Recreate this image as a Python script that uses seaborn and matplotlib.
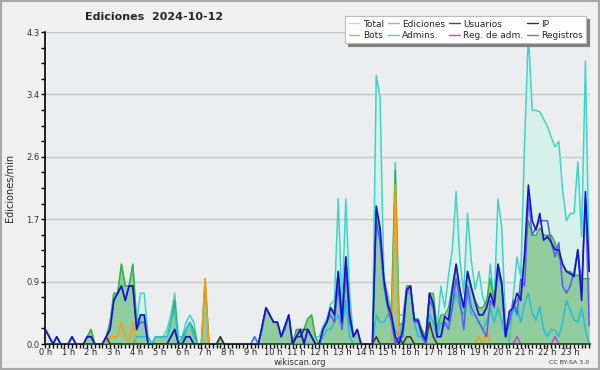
import numpy as np
import seaborn as sns
import matplotlib.pyplot as plt
from matplotlib.lines import Line2D
from matplotlib.ticker import FixedLocator, MultipleLocator

# 10-minute steps, 6 values per hour
total = [
    0.2, 0.1, 0, 0.1, 0, 0,
    0, 0.1, 0, 0, 0, 0.1,
    0.2, 0, 0, 0, 0.1, 0.3,
    0.7, 0.7, 1.1, 0.8, 0.8, 1.1,
    0.3, 0.7, 0.7, 0.1, 0, 0.1,
    0.1, 0.1, 0.2, 0.4, 0.7, 0.1,
    0.1, 0.3, 0.4, 0.3, 0, 0,
    0.9, 0, 0, 0, 0.1, 0,
    0, 0, 0, 0, 0, 0,
    0, 0.1, 0, 0.25, 0.5, 0.4,
    0.3, 0.3, 0.1, 0.25, 0.4, 0,
    0.2, 0.2, 0.2, 0.35, 0.4, 0.1,
    0.1, 0.25, 0.35, 0.55, 0.6, 2.0,
    0.5, 2.0, 0.7, 0.1, 0.2, 0,
    0, 0, 0, 3.7, 3.4, 0.9,
    0.7, 0.45, 2.5, 0.4, 0.4, 0.8,
    0.8, 0.35, 0.35, 0.2, 0.1, 0.7,
    0.6, 0.2, 0.8, 0.5, 0.95, 1.3,
    2.1, 1.15, 0.7, 1.8, 1.15, 0.75,
    1.0, 0.65, 0.5, 1.1, 0.55, 2.0,
    1.6, 0.3, 0, 0.65, 1.2, 0.93,
    2.76, 4.28, 3.22, 3.22, 3.2, 3.1,
    3.0, 2.85, 2.72, 2.79, 2.12, 1.7,
    1.8, 1.8, 2.51, 1.48, 3.9, 1.0,
]
ediciones = [
    0, 0, 0, 0, 0, 0,
    0, 0, 0, 0, 0, 0.1,
    0.2, 0, 0, 0, 0.1, 0.3,
    0.7, 0.7, 1.1, 0.8, 0.8, 1.1,
    0.3, 0.4, 0.4, 0, 0, 0.1,
    0.1, 0.1, 0.1, 0.3, 0.6, 0,
    0.1, 0.2, 0.3, 0.2, 0, 0,
    0.9, 0, 0, 0, 0.1, 0,
    0, 0, 0, 0, 0, 0,
    0, 0, 0, 0.25, 0.5, 0.4,
    0.3, 0.3, 0.1, 0.25, 0.4, 0,
    0.2, 0.2, 0.2, 0.35, 0.4, 0.1,
    0, 0.2, 0.3, 0.5, 0.45, 1.0,
    0.35, 1.2, 0.45, 0.1, 0.2, 0,
    0, 0, 0, 1.85, 1.55, 0.9,
    0.6, 0.4, 2.4, 0.25, 0.3, 0.8,
    0.8, 0.35, 0.3, 0.2, 0.1, 0.7,
    0.7, 0.2, 0.4, 0.4, 0.5, 0.8,
    1.1, 0.75, 0.5, 1.0, 0.8, 0.6,
    0.5, 0.5, 0.6, 0.9, 0.6, 1.1,
    0.85, 0.1, 0.3, 0.5, 0.6, 0.7,
    1.2, 1.7, 1.5, 1.5, 1.6, 1.5,
    1.5, 1.5, 1.4, 1.2, 1.1, 1.0,
    1.0, 0.95, 0.95, 0.9, 0.9, 0.9,
]
usuarios = [
    0.2, 0.1, 0, 0.1, 0, 0,
    0, 0.1, 0, 0, 0, 0.1,
    0.1, 0, 0, 0, 0.1, 0.2,
    0.6, 0.7, 0.8, 0.6, 0.8, 0.8,
    0.2, 0.4, 0.4, 0, 0, 0,
    0, 0, 0, 0.1, 0.2, 0,
    0, 0.1, 0.1, 0, 0, 0,
    0, 0, 0, 0, 0, 0,
    0, 0, 0, 0, 0, 0,
    0, 0, 0, 0.25, 0.5, 0.4,
    0.3, 0.3, 0.1, 0.25, 0.4, 0,
    0.1, 0.2, 0, 0.2, 0.1, 0,
    0, 0.2, 0.3, 0.5, 0.4, 1.0,
    0.3, 1.2, 0.4, 0.1, 0.2, 0,
    0, 0, 0, 1.9, 1.6, 0.9,
    0.55, 0.4, 0.1, 0, 0.2, 0.75,
    0.8, 0.33, 0.33, 0.15, 0.05, 0.7,
    0.55, 0.1, 0.1, 0.38, 0.33, 0.74,
    1.1, 0.74, 0.5, 1.0, 0.77, 0.58,
    0.4, 0.4, 0.5, 0.7, 0.54, 1.1,
    0.84, 0.1, 0.45, 0.5, 0.7, 0.6,
    1.25, 2.19, 1.7, 1.57, 1.8, 1.43,
    1.48, 1.4, 1.3, 1.3, 1.1, 1.0,
    0.97, 0.93, 1.3, 0.6, 2.1, 1.0,
]
registros = [
    0.2, 0.1, 0, 0.1, 0, 0,
    0, 0.1, 0, 0, 0, 0.1,
    0.1, 0, 0, 0, 0.1, 0.2,
    0.6, 0.7, 0.8, 0.6, 0.8, 0.8,
    0.2, 0.3, 0.3, 0, 0, 0,
    0, 0, 0, 0.1, 0.2, 0,
    0, 0.1, 0.1, 0, 0, 0,
    0, 0, 0, 0, 0, 0,
    0, 0, 0, 0, 0, 0,
    0, 0.1, 0, 0.2, 0.5, 0.4,
    0.3, 0.3, 0.1, 0.2, 0.4, 0,
    0.1, 0.2, 0, 0.2, 0.1, 0,
    0, 0.2, 0.3, 0.4, 0.3, 0.8,
    0.2, 1.0, 0.3, 0.1, 0.2, 0,
    0, 0, 0, 1.7, 1.4, 0.8,
    0.5, 0.3, 0, 0.1, 0.1, 0.7,
    0.8, 0.3, 0.3, 0.1, 0, 0.6,
    0.5, 0.1, 0.1, 0.3, 0.2, 0.5,
    0.9, 0.6, 0.2, 0.8, 0.5, 0.4,
    0.3, 0.2, 0.1, 0.6, 0.5, 1.0,
    0.8, 0.1, 0.3, 0.6, 0.4, 0.9,
    0.8, 2.0, 1.5, 1.6, 1.7, 1.7,
    1.7, 1.4, 1.2, 1.4, 0.8, 0.7,
    0.8, 1.0, 1.3, 0.8, 2.0, 0.25,
]
admins = [
    0, 0, 0, 0, 0, 0,
    0, 0, 0, 0, 0, 0,
    0, 0, 0, 0, 0, 0,
    0, 0, 0, 0, 0, 0,
    0.1, 0.1, 0.1, 0.1, 0, 0.1,
    0.1, 0.1, 0.1, 0.3, 0.5, 0,
    0, 0.2, 0.3, 0.1, 0, 0,
    0, 0, 0, 0, 0, 0,
    0, 0, 0, 0, 0, 0,
    0, 0, 0, 0, 0, 0,
    0, 0, 0, 0, 0, 0,
    0, 0, 0, 0, 0, 0,
    0, 0.1, 0.2, 0.2, 0.3, 0.4,
    0.2, 0.6, 0.1, 0, 0, 0,
    0, 0, 0, 0.4, 0.3, 0.3,
    0.4, 0.35, 0.2, 0.1, 0.3, 0.7,
    0.7, 0.3, 0.1, 0.1, 0.1, 0.4,
    0.3, 0.1, 0.3, 0.25, 0.3, 0.5,
    0.7, 0.5, 0.4, 0.7, 0.4, 0.4,
    0.3, 0.2, 0.3, 0.5, 0.3, 0.5,
    0.3, 0.1, 0.3, 0.45, 0.5, 0.3,
    0.55, 0.7, 0.42, 0.33, 0.51, 0.2,
    0.1, 0.2, 0.19, 0.1, 0.3, 0.6,
    0.47, 0.33, 0.3, 0.5, 0.2, 0,
]
ip = [0.0] * 144
for i, v in [(16, 0.1), (46, 0.1), (66, 0.1), (67, 0.1), (68, 0.2), (69, 0.2), (70, 0.1),
             (87, 0.1), (93, 0.1), (95, 0.1), (96, 0.1), (101, 0.3), (102, 0.1)]:
    ip[i] = v
bots = [0.0] * 144
for i, v in [(11, 0.1), (12, 0.1), (17, 0.1), (18, 0.1), (19, 0.1), (20, 0.3), (21, 0.1),
             (23, 0.3), (42, 0.9), (92, 2.2), (114, 0.1), (116, 0.2)]:
    bots[i] = v
reg_adm = [0.0] * 144
for i, v in [(124, 0.1), (134, 0.1)]:
    reg_adm[i] = v

hour_labels = [f"{h} h" for h in range(24)]
ymax = 4.3

sns.set_style("white")
plt.rcParams['font.family'] = ['DejaVu Sans']

fig = plt.figure(figsize=(6, 3.7), dpi=100, facecolor='#f0f0f0')
ax = fig.add_axes([45 / 600, 26 / 370, 545 / 600, 312 / 370])
ax.set_facecolor('#ebedef')
x = np.arange(len(total))

ax.fill_between(x, total, color='#d6f0ea', lw=0, zorder=1)
sns.lineplot(x=x, y=total, ax=ax, color='#40d4c8', lw=1.1, zorder=2)
ax.fill_between(x, ediciones, color='#6cba74', alpha=0.65, lw=0, zorder=3)
sns.lineplot(x=x, y=ediciones, ax=ax, color='#3aae3a', lw=1.0, zorder=4)
sns.lineplot(x=x, y=admins, ax=ax, color='#22bedd', lw=1.1, zorder=5)
sns.lineplot(x=x, y=bots, ax=ax, color='#ff9a10', lw=1.1, zorder=6)
sns.lineplot(x=x, y=reg_adm, ax=ax, color='#bb44dd', lw=1.1, zorder=6)
sns.lineplot(x=x, y=ip, ax=ax, color='#333333', lw=1.1, zorder=7)
sns.lineplot(x=x, y=registros, ax=ax, color='#5a5aff', lw=1.1, zorder=8)
sns.lineplot(x=x, y=usuarios, ax=ax, color='#1414d0', lw=1.2, zorder=9)

ax.set_xlim(-0.1, 143.2)
ax.set_ylim(0, ymax)
for s in ['top', 'right']:
    ax.spines[s].set_visible(False)
for s in ['left', 'bottom']:
    ax.spines[s].set_color('black')
    ax.spines[s].set_linewidth(1.2)

ax.xaxis.set_major_locator(FixedLocator(np.arange(0, 144, 6)))
ax.set_xticklabels(hour_labels)
ax.xaxis.set_minor_locator(MultipleLocator(1))
yt = np.linspace(0, ymax, 6)
ax.set_yticks(yt)
ax.set_yticklabels([f"{v:.1f}" for v in yt])
ax.yaxis.set_minor_locator(MultipleLocator(ymax / 20))
ax.tick_params(axis='x', which='both', direction='out', length=3, width=1, color='black',
               labelsize=6, pad=0, bottom=True)
ax.tick_params(axis='y', which='both', direction='out', length=3, width=1, color='black',
               labelsize=6, pad=1, left=True, labelcolor='#333333')
ax.yaxis.grid(True, color='#c8c8c8', lw=1)
ax.xaxis.grid(False)
ax.set_axisbelow(True)
ax.set_xlabel('')
ax.set_ylabel('Ediciones/min', fontsize=7, labelpad=8)

fig.text(0.257, 0.955, 'Ediciones  2024-10-12', fontsize=8, fontweight='bold',
         ha='center', va='center')
fig.text(0.5, 0.02, 'wikiscan.org', fontsize=6, ha='center', va='center', color='#333333')
fig.text(0.982, 0.02, 'CC BY-SA 3.0', fontsize=4.5, ha='right', va='center', color='#333333')

names = ['Total', 'Bots', 'Ediciones', 'Admins.', 'Usuarios', 'Reg. de adm.', 'IP', 'Registros']
cols = ['#aee6e0', '#f0a040', '#88cc88', '#44c8dd', '#3c3cc8', '#cc44cc', '#333333', '#7070ee']
handles = [Line2D([], [], color=c, lw=1) for c in cols]
leg = fig.legend(handles, names, ncol=4, loc='upper right', bbox_to_anchor=(0.985, 0.968),
                 fontsize=6.5, frameon=True, fancybox=False, handlelength=1.2,
                 handletextpad=0.4, columnspacing=0.4, labelspacing=0.25, borderpad=0.35,
                 shadow={'color': '#808080', 'alpha': 1.0})
leg.get_frame().set_facecolor('white')
leg.get_frame().set_edgecolor('#bbbbbb')
leg.get_frame().set_linewidth(0.8)

fig.patches.append(plt.Rectangle((0.002, 0.003), 0.996, 0.994, transform=fig.transFigure,
                                 fill=False, edgecolor='#a8a8a8', lw=1.5))
fig.savefig('out.png', dpi=100, facecolor=fig.get_facecolor())
